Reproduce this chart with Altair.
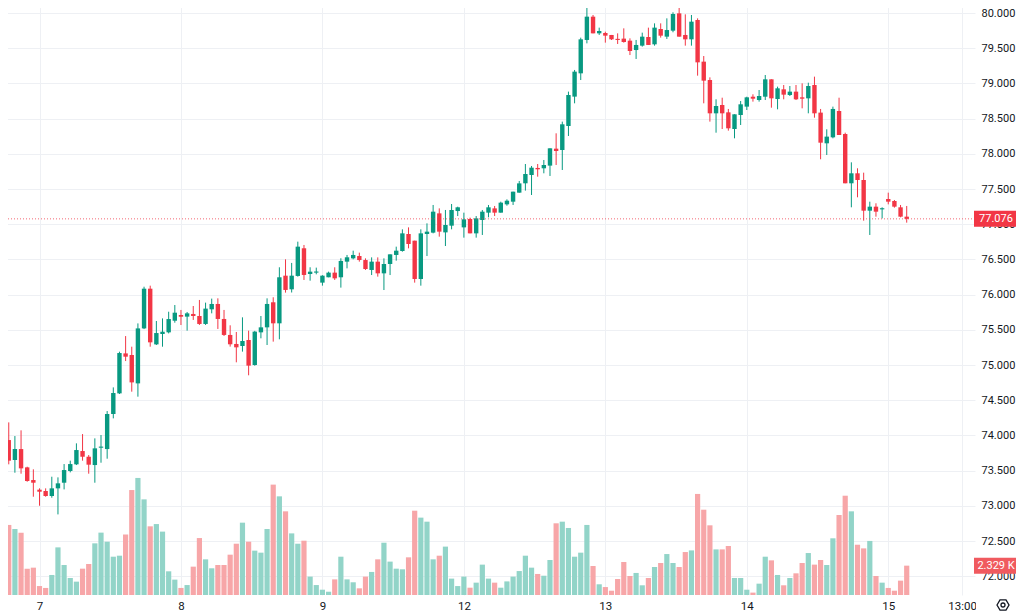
import altair as alt
import pandas as pd

# ---- data (hourly candles, volume in thousands) ----
opens = [73.934, 73.650, 73.806, 73.546, 73.366, 73.229, 73.210, 73.139, 73.248, 73.328,
         73.494, 73.589, 73.778, 73.697, 73.579, 73.825, 73.806, 74.304, 74.597, 75.165,
         75.142, 74.739, 75.520, 76.084, 75.293, 75.440, 75.464, 75.629, 75.710, 75.687,
         75.725, 75.696, 75.583, 75.791, 75.867, 75.654, 75.427, 75.299, 75.270, 75.355,
         75.000, 75.464, 75.535, 75.891, 75.592, 76.269, 76.075, 76.265, 76.658, 76.293,
         76.312, 76.170, 76.246, 76.312, 76.246, 76.468, 76.515, 76.548, 76.491, 76.350,
         76.468, 76.302, 76.435, 76.563, 76.619, 76.861, 76.766, 76.222, 76.861, 76.880,
         77.154, 76.884, 76.979, 77.187, 76.955, 77.074, 76.870, 77.060, 77.164, 77.225,
         77.164, 77.282, 77.320, 77.448, 77.581, 77.699, 77.799, 77.794, 77.832, 78.073,
         78.054, 78.395, 78.812, 79.143, 79.617, 79.948, 79.711, 79.716, 79.688, 79.631,
         79.636, 79.607, 79.474, 79.536, 79.659, 79.555, 79.773, 79.664, 79.749, 79.995,
         79.688, 79.626, 79.901, 79.309, 79.048, 78.575, 78.693, 78.589, 78.352, 78.551,
         78.670, 78.811, 78.764, 78.811, 79.058, 78.778, 78.916, 78.835, 78.883, 78.802,
         78.788, 78.977, 78.585, 78.149, 78.234, 78.608, 78.281, 77.581, 77.723, 77.628,
         77.192, 77.249, 77.211, 77.358, 77.330, 77.240, 77.107]
highs = [74.185, 73.991, 74.072, 73.555, 73.518, 73.248, 73.248, 73.413, 73.404, 73.593,
         73.641, 73.887, 74.019, 73.721, 73.958, 74.005, 74.346, 74.682, 75.189, 75.411,
         75.260, 75.591, 76.112, 76.127, 75.625, 75.662, 75.757, 75.852, 75.782, 75.753,
         75.838, 75.924, 75.886, 75.943, 75.947, 75.782, 75.564, 75.469, 75.677, 75.488,
         75.485, 75.696, 75.947, 75.962, 76.388, 76.501, 76.450, 76.752, 76.705, 76.388,
         76.383, 76.275, 76.326, 76.388, 76.516, 76.563, 76.624, 76.596, 76.515, 76.529,
         76.529, 76.515, 76.572, 76.681, 76.927, 76.955, 76.766, 76.927, 77.012, 77.273,
         77.225, 77.202, 77.287, 77.249, 77.164, 77.093, 77.116, 77.202, 77.273, 77.259,
         77.320, 77.353, 77.462, 77.614, 77.855, 77.827, 77.855, 77.912, 78.078, 78.291,
         78.457, 78.883, 79.191, 79.650, 80.190, 79.972, 79.792, 79.735, 79.688, 79.711,
         79.782, 79.640, 79.617, 79.721, 79.792, 79.853, 79.853, 79.924, 80.010, 80.190,
         79.981, 79.972, 79.924, 79.389, 79.086, 78.774, 78.797, 78.637, 78.561, 78.750,
         78.811, 78.845, 78.906, 79.119, 79.058, 78.954, 78.977, 78.963, 78.977, 79.001,
         79.010, 79.096, 78.637, 78.348, 78.670, 78.797, 78.300, 77.879, 77.794, 77.732,
         77.320, 77.297, 77.240, 77.448, 77.344, 77.273, 77.259]
lows = [73.589, 73.470, 73.456, 73.342, 73.129, 73.001, 73.129, 73.115, 72.878, 73.233,
        73.475, 73.579, 73.641, 73.456, 73.328, 73.612, 73.669, 74.242, 74.588, 75.056,
        74.621, 74.550, 75.510, 75.260, 75.284, 75.260, 75.449, 75.601, 75.568, 75.488,
        75.640, 75.569, 75.569, 75.734, 75.512, 75.412, 75.261, 75.038, 75.190, 74.854,
        74.990, 75.379, 75.284, 75.332, 75.365, 76.028, 76.030, 76.255, 76.208, 76.198,
        76.288, 76.127, 76.246, 76.208, 76.099, 76.373, 76.501, 76.468, 76.350, 76.278,
        76.255, 76.065, 76.278, 76.482, 76.610, 76.657, 76.170, 76.127, 76.548, 76.870,
        76.823, 76.690, 76.927, 77.116, 76.809, 76.870, 76.809, 76.847, 77.098, 77.116,
        77.164, 77.263, 77.273, 77.448, 77.477, 77.415, 77.675, 77.723, 77.685, 77.841,
        77.770, 78.253, 78.717, 79.048, 79.569, 79.711, 79.688, 79.579, 79.617, 79.560,
        79.579, 79.403, 79.347, 79.522, 79.546, 79.536, 79.650, 79.631, 79.726, 79.664,
        79.536, 79.536, 79.110, 78.717, 78.457, 78.300, 78.352, 78.329, 78.220, 78.409,
        78.622, 78.741, 78.741, 78.764, 78.655, 78.632, 78.774, 78.821, 78.764, 78.646,
        78.575, 78.513, 77.922, 77.983, 78.220, 78.267, 77.581, 77.240, 77.382, 77.050,
        76.847, 77.107, 77.083, 77.282, 77.235, 77.098, 77.022]
closes = [73.641, 73.806, 73.532, 73.352, 73.328, 73.200, 73.139, 73.248, 73.319, 73.508,
          73.593, 73.792, 73.697, 73.584, 73.816, 73.835, 74.304, 74.602, 75.170, 75.118,
          74.753, 75.520, 76.084, 75.322, 75.454, 75.473, 75.653, 75.743, 75.686, 75.734,
          75.696, 75.583, 75.801, 75.867, 75.654, 75.427, 75.294, 75.251, 75.341, 74.991,
          75.474, 75.535, 75.867, 75.592, 76.246, 76.066, 76.269, 76.681, 76.279, 76.326,
          76.317, 76.269, 76.312, 76.231, 76.478, 76.530, 76.563, 76.491, 76.364, 76.468,
          76.302, 76.435, 76.572, 76.624, 76.870, 76.719, 76.222, 76.870, 76.894, 77.178,
          76.894, 76.989, 77.202, 77.240, 77.069, 76.870, 77.083, 77.178, 77.240, 77.164,
          77.306, 77.334, 77.462, 77.580, 77.713, 77.803, 77.780, 77.841, 78.078, 78.040,
          78.419, 78.835, 79.167, 79.626, 79.948, 79.711, 79.744, 79.678, 79.626, 79.617,
          79.588, 79.460, 79.546, 79.664, 79.546, 79.792, 79.678, 79.758, 79.986, 79.664,
          79.626, 79.877, 79.299, 79.039, 78.575, 78.679, 78.575, 78.362, 78.561, 78.703,
          78.802, 78.783, 78.821, 79.058, 78.788, 78.930, 78.840, 78.883, 78.774, 78.783,
          78.963, 78.575, 78.158, 78.244, 78.637, 78.267, 77.581, 77.723, 77.628, 77.192,
          77.249, 77.178, 77.225, 77.320, 77.249, 77.107, 77.076]
volumes = [5.56, 5.24, 4.95, 2.09, 2.17, 0.71, 0.56, 1.59, 3.78, 2.38,
           1.35, 1.06, 2.09, 2.46, 4.10, 4.95, 4.23, 3.04, 3.12, 4.81,
           8.33, 9.29, 7.59, 5.45, 5.63, 5.03, 1.88, 1.22, 0.56, 0.79,
           2.25, 4.52, 2.83, 2.12, 2.38, 2.38, 3.20, 4.07, 5.74, 4.23,
           3.52, 3.36, 5.24, 8.76, 7.83, 6.64, 4.89, 4.07, 4.31, 1.46,
           0.79, 0.42, 0.26, 1.24, 3.04, 1.24, 1.01, 0.53, 1.46, 1.83,
           2.83, 4.15, 2.65, 2.09, 2.04, 2.99, 6.69, 6.14, 5.82, 2.83,
           3.12, 3.84, 1.30, 0.71, 1.46, 0.58, 0.98, 2.41, 1.30, 0.98,
           0.58, 1.08, 1.46, 1.90, 3.12, 2.17, 1.67, 1.53, 2.78, 5.69,
           5.82, 5.32, 3.04, 3.36, 5.56, 2.30, 0.85, 0.63, 0.34, 1.27,
           2.62, 1.51, 1.75, 0.77, 1.35, 2.22, 2.54, 3.25, 2.54, 2.22,
           3.41, 3.54, 8.02, 6.77, 5.53, 3.62, 3.62, 3.89, 1.35, 1.35,
           0.42, 0.19, 0.90, 3.04, 2.75, 1.59, 0.77, 1.35, 1.72, 2.54,
           3.33, 2.41, 2.78, 2.38, 4.50, 6.35, 7.88, 6.64, 3.99, 3.70,
           4.29, 1.51, 0.98, 0.56, 0.34, 1.14, 2.329]

tick_index = [5, 28, 51, 74, 97, 120, 143, 155]
tick_labels = ["7", "8", "9", "12", "13", "14", "15", "13:00"]
price_ticks = [72.0, 72.5, 73.0, 73.5, 74.0, 74.5, 75.0, 75.5, 76.0, 76.5,
               77.0, 77.5, 78.0, 78.5, 79.0, 79.5, 80.0]

# ---- styling ----
UP, DOWN = "#089981", "#F23645"
VUP, VDOWN = "#92D4C8", "#F7A6A8"
GRID = "#EEF0F4"
TXT = "#131722"
FONT = "Roboto"
FS = 11
W, H = 975, 595

df = pd.DataFrame({"i": list(range(len(opens))), "open": opens, "high": highs,
                   "low": lows, "close": closes, "volume": volumes})
last = df.tail(1)

label_expr = " : ".join(
    f"datum.value == {v} ? '{t}'" for v, t in zip(tick_index, tick_labels)) + " : ''"

xscale = alt.Scale(domain=[-0.61, 156.29], nice=False, zero=False)
x_enc = alt.X("i:Q", scale=xscale,
              axis=alt.Axis(values=tick_index, labelExpr=label_expr, grid=True,
                            gridColor=GRID, domain=False, ticks=False, tickSize=0,
                            labelPadding=5, labelFlush=False, labelFont=FONT,
                            labelFontSize=11.5, labelColor=TXT, title=None, zindex=0))

pscale = alt.Scale(domain=[71.733, 80.1847], nice=False, zero=False)
paxis = alt.Axis(orient="right", values=price_ticks, format=".3f", grid=True,
                 gridColor=GRID, domain=False, ticks=False, tickSize=0,
                 labelPadding=6, labelAlign="left", labelFlush=False,
                 labelFont=FONT, labelFontSize=FS, labelColor=TXT, title=None,
                 zindex=0)
vscale = alt.Scale(domain=[0, 47.22], nice=False, zero=True)

dir_color_c = alt.condition("datum.close >= datum.open", alt.value(UP), alt.value(DOWN))
dir_color_v = alt.condition("datum.close >= datum.open", alt.value(VUP), alt.value(VDOWN))

base = alt.Chart(df)

BOX = "M-1,-0.381H1V0.381H-1Z"
BOX_SIZE = 1764
BOX_X = 995

# volume pane
vol_bars = base.mark_bar(size=5.2, clip=True).encode(
    x=x_enc, y=alt.Y("volume:Q", scale=vscale, axis=None), color=dir_color_v)
vol_box = alt.Chart(last).mark_point(shape=BOX, size=BOX_SIZE, filled=True, opacity=1,
                                     color="#F05A5F", clip=False).encode(
    x=alt.value(BOX_X), y=alt.Y("volume:Q", scale=vscale, axis=None))
vol_txt = alt.Chart(last).transform_calculate(
    lbl="format(datum.volume, '.3f') + ' K'").mark_text(
    color="white", font=FONT, fontSize=FS, align="center", baseline="middle",
    clip=False).encode(x=alt.value(BOX_X + 1),
                       y=alt.Y("volume:Q", scale=vscale, axis=None), text="lbl:N")
vol_layer = alt.layer(vol_bars, vol_box, vol_txt)

# price pane
wicks = base.mark_rule(strokeWidth=1, clip=True).encode(
    x=x_enc, y=alt.Y("low:Q", scale=pscale, axis=paxis), y2="high:Q",
    color=dir_color_c)
bodies = base.transform_calculate(
    bt="max(datum.open, datum.close)", bb="min(datum.open, datum.close)"
).transform_calculate(
    bt2="datum.bt - datum.bb < 0.016 ? datum.bb + 0.016 : datum.bt"
).mark_bar(size=4.4, clip=True).encode(
    x=x_enc, y=alt.Y("bb:Q", scale=pscale, axis=paxis), y2="bt2:Q",
    color=dir_color_c)
price_line = alt.Chart(last).mark_rule(color=DOWN, strokeDash=[1, 2],
                                       strokeWidth=1, opacity=0.75).encode(
    y=alt.Y("close:Q", scale=pscale, axis=paxis))
price_box = alt.Chart(last).mark_point(shape=BOX, size=BOX_SIZE, filled=True, opacity=1,
                                       color=DOWN, clip=False).encode(
    x=alt.value(BOX_X), y=alt.Y("close:Q", scale=pscale, axis=paxis))
price_txt = alt.Chart(last).transform_calculate(
    lbl="format(datum.close, '.3f')").mark_text(
    color="white", font=FONT, fontSize=FS, align="center", baseline="middle",
    clip=False).encode(x=alt.value(BOX_X + 1),
                       y=alt.Y("close:Q", scale=pscale, axis=paxis), text="lbl:N")

one = pd.DataFrame({"k": [0]})
cover = alt.Chart(one).mark_rect(color="white", clip=False).encode(
    x=alt.value(976), x2=alt.value(1040), y=alt.value(597), y2=alt.value(625))
HEX = "M-1,0L-0.5,-0.866L0.5,-0.866L1,0L0.5,0.866L-0.5,0.866Z"
gear = alt.Chart(one).mark_point(shape=HEX, size=144, filled=False, stroke=TXT,
                                 strokeWidth=1.3, opacity=1, clip=False).encode(
    x=alt.value(1003), y=alt.value(605))
gear_dot = alt.Chart(one).mark_point(shape="circle", size=16, filled=False, stroke=TXT,
                                     strokeWidth=1.3, opacity=1, clip=False).encode(
    x=alt.value(1003), y=alt.value(605))

price_layer = alt.layer(wicks, bodies, price_line, price_box, price_txt,
                        cover, gear, gear_dot)

chart = alt.layer(vol_layer, price_layer).resolve_scale(y="independent").properties(
    width=W, height=H, autosize=alt.AutoSizeParams(type="none"),
    padding={"left": -8, "top": -8, "right": 41, "bottom": 20},
    background="white"
).configure_view(stroke=None)

chart.save("out.html", embed_options={"renderer": "svg", "actions": False})
